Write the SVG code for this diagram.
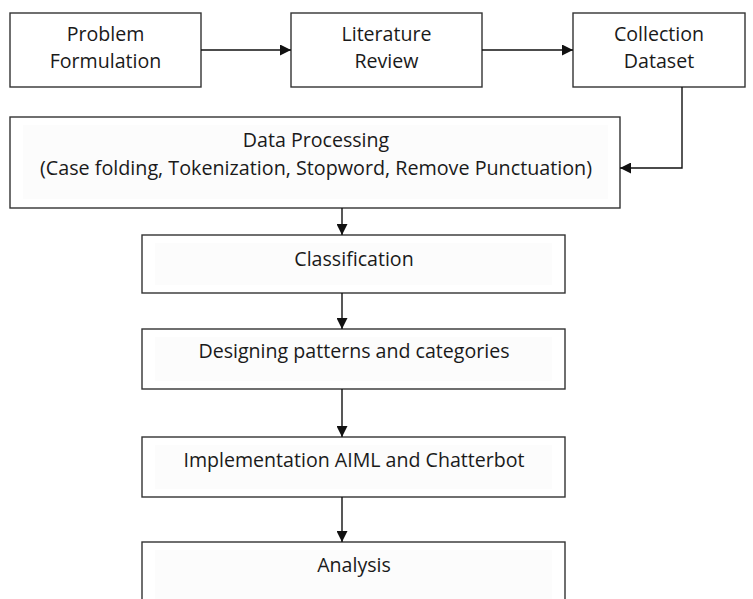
<svg xmlns="http://www.w3.org/2000/svg" width="753" height="599" viewBox="0 0 753 599">
<defs>
<style>
.box{fill:#ffffff;stroke:#333333;stroke-width:1.4}
.inner{fill:#fcfcfc;stroke:none}
.t{font-family:"Open Sans","Noto Sans","Liberation Sans",sans-serif;font-size:19.6px;fill:#1a1a1a;text-anchor:middle}
.c{fill:none;stroke:#111111;stroke-width:1.4}
</style>
<marker id="ah" viewBox="0 0 10 10" refX="10" refY="5" markerWidth="11" markerHeight="11" markerUnits="userSpaceOnUse" orient="auto">
<path d="M0,0 L10,5 L0,10 Z" fill="#111111"/>
</marker>
</defs>
<rect width="753" height="599" fill="#ffffff"/>
<g id="n1">
<rect class="box" x="10" y="13" width="191" height="74"/>
<text class="t" x="105.5" y="41">Problem</text>
<text class="t" x="105.5" y="68">Formulation</text>
</g>
<g id="n2">
<rect class="box" x="291" y="13" width="191" height="74"/>
<text class="t" x="386.5" y="41">Literature</text>
<text class="t" x="386.5" y="68">Review</text>
</g>
<g id="n3">
<rect class="box" x="573" y="13" width="172" height="74"/>
<text class="t" x="659" y="41">Collection</text>
<text class="t" x="659" y="68">Dataset</text>
</g>
<g id="n4">
<rect class="box" x="10" y="117" width="610" height="91"/>
<rect class="inner" x="23" y="125" width="585" height="74"/>
<text class="t" x="316" y="147">Data Processing</text>
<text class="t" x="316" y="175" textLength="552" lengthAdjust="spacingAndGlyphs">(Case folding, Tokenization, Stopword, Remove Punctuation)</text>
</g>
<g id="n5">
<rect class="box" x="142" y="235" width="423" height="58"/>
<rect class="inner" x="155" y="243" width="397" height="42"/>
<text class="t" x="354" y="266">Classification</text>
</g>
<g id="n6">
<rect class="box" x="142" y="329" width="423" height="60"/>
<rect class="inner" x="155" y="337" width="397" height="44"/>
<text class="t" x="354" y="358">Designing patterns and categories</text>
</g>
<g id="n7">
<rect class="box" x="142" y="437" width="423" height="60"/>
<rect class="inner" x="155" y="445" width="397" height="44"/>
<text class="t" x="354" y="467">Implementation AIML and Chatterbot</text>
</g>
<g id="n8">
<rect class="box" x="142" y="542" width="423" height="70"/>
<rect class="inner" x="155" y="550" width="397" height="49"/>
<text class="t" x="354" y="572">Analysis</text>
</g>
<g id="connectors">
<line class="c" x1="201" y1="50" x2="291" y2="50" marker-end="url(#ah)"/>
<line class="c" x1="482" y1="50" x2="573" y2="50" marker-end="url(#ah)"/>
<polyline class="c" points="682,87 682,168 620,168" marker-end="url(#ah)"/>
<line class="c" x1="342" y1="208" x2="342" y2="235" marker-end="url(#ah)"/>
<line class="c" x1="342" y1="293" x2="342" y2="329" marker-end="url(#ah)"/>
<line class="c" x1="342" y1="389" x2="342" y2="437" marker-end="url(#ah)"/>
<line class="c" x1="342" y1="497" x2="342" y2="542" marker-end="url(#ah)"/>
</g>
</svg>
